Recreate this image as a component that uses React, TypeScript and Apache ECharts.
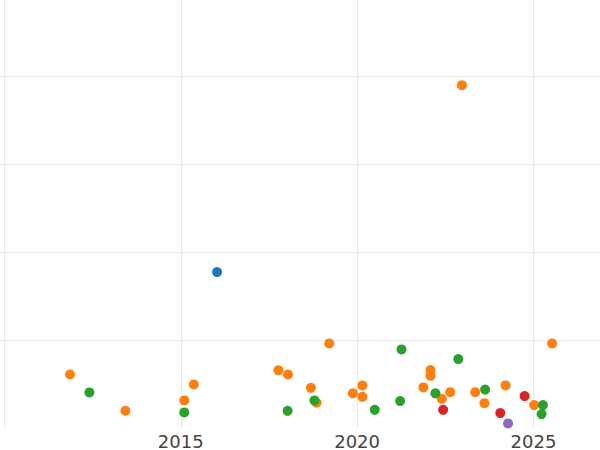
import React, { useEffect, useRef } from "react";
import * as echarts from "echarts";

const blueX = [2016.03];
const blueY = [177.4];

const orangeX = [2011.86, 2013.43, 2015.1, 2015.37, 2017.77, 2018.04, 2018.69, 2018.85, 2019.21, 2019.88, 2020.15, 2020.15, 2021.88, 2022.08, 2022.08, 2022.4, 2022.64, 2022.97, 2023.35, 2023.61, 2024.21, 2025.02, 2025.53];
const orangeY = [61.0, 19.6, 31.4, 49.6, 65.6, 61.0, 45.7, 28.7, 96.2, 39.4, 48.5, 35.5, 46.2, 65.9, 59.4, 33.2, 40.8, 390.1, 40.8, 28.3, 48.5, 26.1, 96.2];

const greenX = [2012.41, 2015.1, 2018.03, 2018.79, 2020.5, 2021.22, 2021.26, 2022.22, 2022.87, 2023.63, 2025.27, 2025.23];
const greenY = [40.5, 17.7, 19.5, 31.4, 20.7, 30.6, 89.4, 39.4, 78.4, 43.7, 26.1, 15.8];

const redX = [2022.44, 2024.06, 2024.75];
const redY = [20.7, 17.0, 36.3];

const purpleX = [2024.28];
const purpleY = [5.2];

const gridYears = [2010, 2015, 2020, 2025];
const tickYears = [2015, 2020, 2025];

const zip = (xs: number[], ys: number[]) => xs.map((x, i) => [x, ys[i]]);

export default function App() {
  const ref = useRef<HTMLDivElement>(null);
  useEffect(() => {
    if (!ref.current) return;
    const chart = echarts.init(ref.current, null, { renderer: "svg" });
    const mk = (name: string, color: string, xs: number[], ys: number[]) => ({
      name,
      type: "scatter",
      data: zip(xs, ys),
      symbolSize: 10,
      itemStyle: { color, opacity: 1 },
    });
    chart.setOption({
      animation: false,
      backgroundColor: "#ffffff",
      grid: { left: 0, right: 0, top: 0, bottom: 22, containLabel: false },
      xAxis: {
        type: "value",
        min: 2009.875,
        max: 2026.887,
        axisLine: { show: false },
        axisTick: { show: false, customValues: gridYears },
        splitLine: { show: true, lineStyle: { color: "#e8e8e8", width: 1 } },
        axisLabel: {
          customValues: tickYears,
          margin: 4,
          fontFamily: "DejaVu Sans",
          fontSize: 18,
          color: "#444444",
          formatter: (v: number) => String(v),
        },
      },
      yAxis: {
        type: "value",
        min: 0,
        max: 487,
        interval: 100,
        axisLine: { show: false },
        axisTick: { show: false },
        axisLabel: { show: false },
        splitLine: { show: true, showMinLine: false, showMaxLine: false, lineStyle: { color: "#e8e8e8", width: 1 } },
      },
      series: [
        mk("blue", "#1f77b4", blueX, blueY),
        mk("orange", "#ff7f0e", orangeX, orangeY),
        mk("green", "#2ca02c", greenX, greenY),
        mk("red", "#d62728", redX, redY),
        mk("purple", "#9467bd", purpleX, purpleY),
      ],
    });
    return () => chart.dispose();
  }, []);
  return (
    <div
      ref={ref}
      style={{ position: "fixed", left: 0, top: 0, width: 600, height: 450 }}
    />
  );
}
